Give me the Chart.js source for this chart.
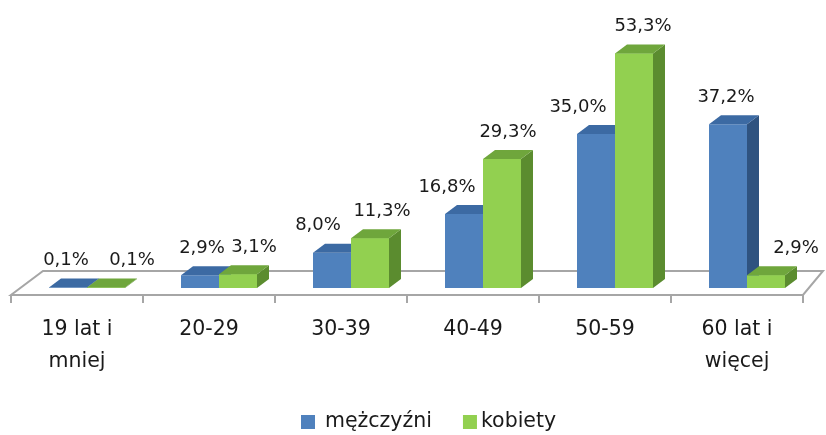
<!DOCTYPE html>
<html lang="pl">
<head>
<meta charset="utf-8">
<script src="https://cdn.jsdelivr.net/npm/chart.js@4.4.1/dist/chart.umd.min.js"></script>
<style>
  html, body { margin: 0; padding: 0; background: #fff; }
  canvas { display: block; }
</style>
</head>
<body>
<canvas id="chart" width="826" height="435"></canvas>
<script>
// data
const categories = [['19 lat i', 'mniej'], '20-29', '30-39', '40-49', '50-59', ['60 lat i', 'więcej']];
const men = [0.1, 2.9, 8.0, 16.8, 35.0, 37.2];
const women = [0.1, 3.1, 11.3, 29.3, 53.3, 2.9];
const seriesNames = ['mężczyźni', 'kobiety'];

const FONT = "'DejaVu Sans', sans-serif";
const TEXT = '#1a1a1a';

// fake 3d look
const depth = { dx: 12, dy: -9 };
const shift = 10; // bars stand in the middle of the floor depth
const labelNudge = [[-2, 26], [2, 16], [-14, 12], [-17, 6], [-18, 9], [-2, 30]];

const colors = [
  { front: '#4f81bd', top: '#3c6aa3', side: '#2f5380' },
  { front: '#92d050', top: '#6fa63c', side: '#5b8c2f' },
];

const fmt = v => v.toFixed(1).replace('.', ',') + '%';

function poly(ctx, pts, fill) {
  ctx.beginPath();
  ctx.moveTo(pts[0][0], pts[0][1]);
  for (let i = 1; i < pts.length; i++) ctx.lineTo(pts[i][0], pts[i][1]);
  ctx.closePath();
  ctx.fillStyle = fill;
  ctx.fill();
}

function sideAndTop(ctx, bar, c) {
  const { dx, dy } = depth;
  const { x, y, base, width } = bar.getProps(['x', 'y', 'base', 'width'], true);
  const l = x - width / 2, r = x + width / 2;
  poly(ctx, [[r, y], [r + dx, y + dy], [r + dx, base + dy], [r, base]], c.side);
  poly(ctx, [[l, y], [r, y], [r + dx, y + dy], [l + dx, y + dy]], c.top);
}

const bars3d = {
  id: 'bars3d',
  beforeDatasetsDraw(chart) {
    const { ctx, chartArea: a } = chart;
    const front = a.bottom + 7, back = a.bottom - 17;
    ctx.save();
    ctx.beginPath();
    ctx.moveTo(a.left, front);
    ctx.lineTo(a.right, front);
    ctx.lineTo(a.right + 20, back);
    ctx.lineTo(a.left + 32, back);
    ctx.closePath();
    ctx.fillStyle = '#fff';
    ctx.fill();
    ctx.strokeStyle = '#a6a6a6';
    ctx.lineWidth = 2;
    ctx.stroke();
    const step = (a.right - a.left) / categories.length;
    ctx.beginPath();
    for (let k = 0; k <= categories.length; k++) {
      ctx.moveTo(a.left + k * step, front);
      ctx.lineTo(a.left + k * step, front + 8);
    }
    ctx.stroke();
    ctx.restore();
    ctx.save();
    ctx.translate(shift, 0);
  },
  afterDatasetsDraw(chart) {
    const ctx = chart.ctx;
    const menBars = chart.getDatasetMeta(0).data;
    const womenBars = chart.getDatasetMeta(1).data;
    // paint back to front: blue top/side, then green face over it
    menBars.forEach((bar, i) => {
      sideAndTop(ctx, bar, colors[0]);
      womenBars[i].draw(ctx);
      sideAndTop(ctx, womenBars[i], colors[1]);
    });
    ctx.restore();

    ctx.save();
    ctx.font = '18px ' + FONT;
    ctx.fillStyle = TEXT;
    ctx.textAlign = 'center';
    ctx.textBaseline = 'middle';
    chart.data.datasets.forEach((ds, di) => {
      chart.getDatasetMeta(di).data.forEach((bar, i) => {
        ctx.fillText(fmt(ds.data[i]), bar.x + shift + labelNudge[i][di], bar.y - 27);
      });
    });
    ctx.restore();
  },
  afterDraw(chart) {
    // legend
    const ctx = chart.ctx;
    ctx.save();
    ctx.font = '20.5px ' + FONT;
    ctx.textBaseline = 'middle';
    ctx.textAlign = 'left';
    let x = 301;
    const y = 422;
    chart.data.datasets.forEach((ds, di) => {
      const gap = di === 0 ? 24 : 18;
      ctx.fillStyle = ds.backgroundColor;
      ctx.fillRect(x, y - 7, 14, 14);
      ctx.fillStyle = TEXT;
      ctx.fillText(ds.label, x + gap, y);
      x += gap + ctx.measureText(ds.label).width + 31;
    });
    ctx.restore();
  }
};

new Chart(document.getElementById('chart'), {
  type: 'bar',
  data: {
    labels: categories,
    datasets: [
      { label: seriesNames[0], data: men, backgroundColor: colors[0].front },
      { label: seriesNames[1], data: women, backgroundColor: colors[1].front },
    ]
  },
  options: {
    responsive: false,
    animation: false,
    layout: { padding: { top: 24, left: 11, right: 23, bottom: 0 } },
    datasets: {
      bar: { barPercentage: 1, categoryPercentage: 76 / 132, borderWidth: 0, clip: false }
    },
    plugins: {
      legend: { display: false },
      tooltip: { enabled: false }
    },
    scales: {
      x: {
        grid: { display: false, drawTicks: false },
        border: { display: false },
        ticks: {
          color: TEXT,
          font: { family: FONT, size: 20.5, lineHeight: 1.56 },
          padding: 26,
          maxRotation: 0,
          autoSkip: false
        },
        afterFit: s => { s.height = 147; }
      },
      y: { display: false, min: 0, max: 60 }
    }
  },
  plugins: [bars3d]
});
</script>
</body>
</html>
